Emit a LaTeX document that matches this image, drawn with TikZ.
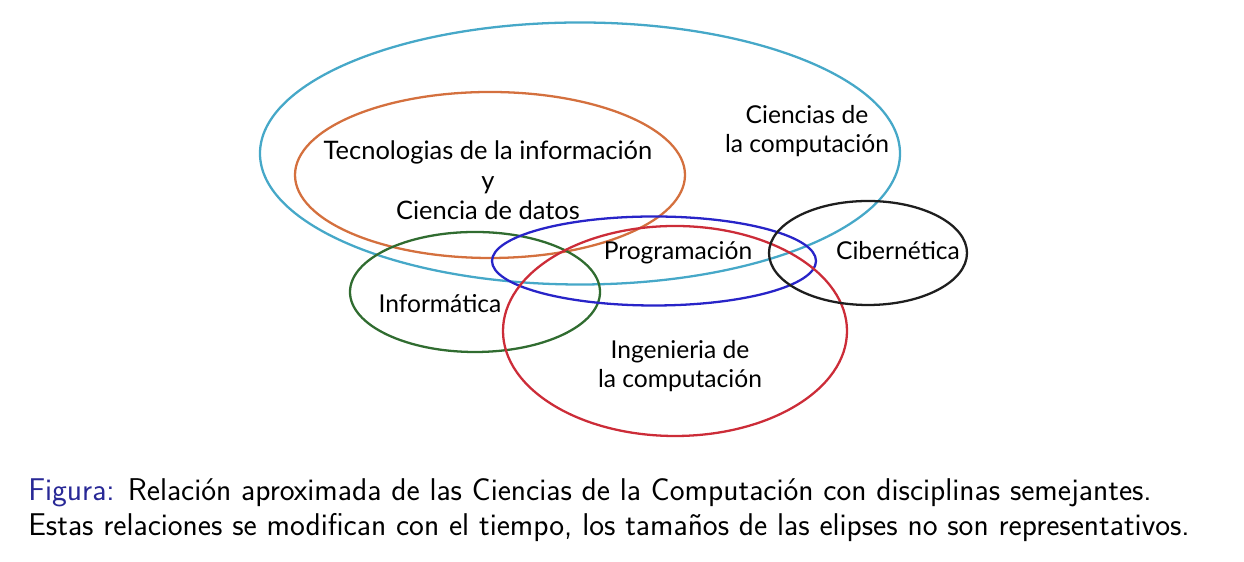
\documentclass[tikz,border=0pt]{standalone}
\usepackage{fontspec}
\usepackage{xcolor}
\usepackage{tikz}
\newfontfamily\handfont{Lato}
\definecolor{cccyan}{RGB}{70,168,200}
\definecolor{ticorange}{RGB}{212,112,62}
\definecolor{progblue}{RGB}{40,36,200}
\definecolor{ingred}{RGB}{204,44,56}
\definecolor{infgreen}{RGB}{48,108,48}
\definecolor{cibblack}{RGB}{30,30,30}
\definecolor{figblue}{RGB}{40,40,150}

\begin{document}
\begin{tikzpicture}
\tikzset{elip/.style={line width=1.3pt},
  lbl/.style={font=\handfont\fontsize{14}{16.5}\selectfont, align=center, inner sep=0pt}}
\useasboundingbox (0,0) rectangle (24.88,11.24);
% elipses
\draw[elip, cccyan] (11.6,8.17) ellipse [x radius=6.4, y radius=2.62];
\draw[elip, ticorange] (9.8,7.74) ellipse [x radius=3.9, y radius=1.66];
\draw[elip, infgreen] (9.5,5.4) ellipse [x radius=2.5, y radius=1.2];
\draw[elip, progblue] (13.08,6.02) ellipse [x radius=3.24, y radius=0.89];
\draw[elip, ingred] (13.5,4.62) ellipse [x radius=3.44, y radius=2.1];
\draw[elip, cibblack] (17.36,6.18) ellipse [x radius=1.98, y radius=1.04];
%
\node[lbl, font=\handfont\fontsize{14.5}{17}\selectfont](tic) at (9.76,7.64) {Tecnologias de la información\\y\\Ciencia de datos};
\node[lbl](ccomp) at (16.14,8.62) {Ciencias de\\la computación};
\node[lbl](prog) at (13.56,6.18) {Programación};
\node[lbl](ciber) at (17.96,6.22) {Cibernética};
\node[lbl](info) at (8.8,5.16) {Informática};
\node[lbl](ing) at (13.6,3.92) {Ingenieria de\\la computación};
%
\node[anchor=west, align=left, inner sep=0pt, font=\sffamily\fontsize{17.9}{19.6}\selectfont](cap) at (0.56,1.04)
  {\textcolor{figblue}{Figura:} Relación aproximada de las Ciencias de la Computación con disciplinas semejantes.\\
  Estas relaciones se modifican con el tiempo, los tamaños de las elipses no son representativos.};
\end{tikzpicture}
\end{document}
